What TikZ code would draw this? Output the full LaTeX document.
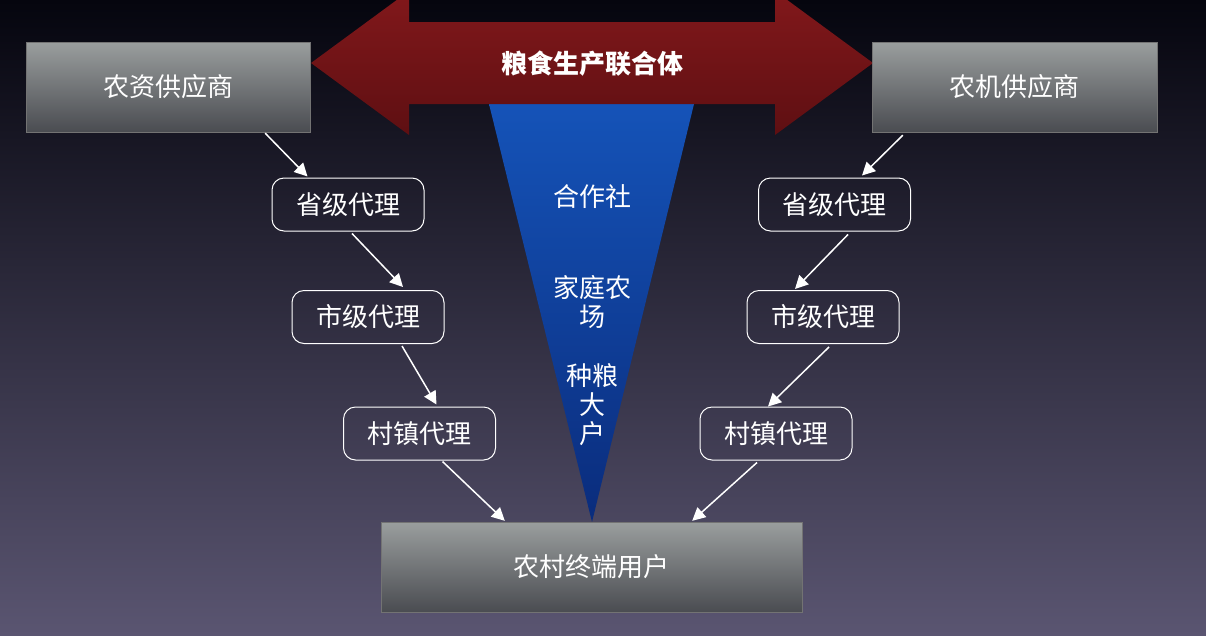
\documentclass[tikz,border=0pt]{standalone}
\usepackage{fontspec}
\newfontfamily\cjk{Noto Sans CJK SC}
\usepackage{xcolor}
\usepackage{tikz}
\usetikzlibrary{arrows.meta,positioning,calc}
\definecolor{fundoTopo}{HTML}{05050E}
\definecolor{fundoBase}{HTML}{5A5571}
\definecolor{caixaTopo}{HTML}{9A9E9E}
\definecolor{caixaBase}{HTML}{4A4C51}
\definecolor{vermelhoTopo}{HTML}{82181B}
\definecolor{vermelhoBase}{HTML}{5E0F12}
\definecolor{azulTopo}{HTML}{1553B8}
\definecolor{azulBase}{HTML}{0A2C7C}
\tikzset{
    texto/.style={
        font=\cjk\fontsize{26}{29}\selectfont,
        text=white,
        align=center
    },
    fornecedor/.style={
        texto,
        rectangle,
        draw=black!55,
        top color=caixaTopo,
        bottom color=caixaBase,
        minimum height=90pt,
        inner sep=0pt
    },
    agente/.style={
        texto,
        rectangle,
        draw=white,
        line width=1pt,
        rounded corners=12pt,
        minimum width=152pt,
        minimum height=53pt,
        inner sep=0pt
    },
    seta/.style={-{Triangle[length=13pt,width=13pt]}, draw=white, line width=1.5pt}
}

\begin{document}
\begin{tikzpicture}[x=1pt, y=-1pt]
        \useasboundingbox (0,0) rectangle (1206,635);
        \clip (0,0) rectangle (1206,635);
        \shade[top color=fundoTopo, bottom color=fundoBase] (0,0) rectangle (1206,635);

        % triangulo central
        \shade[top color=azulTopo, bottom color=azulBase]
            (489,104) -- (694,104) -- (592,522) -- cycle;
        % seta dupla
        \shade[top color=vermelhoTopo, bottom color=vermelhoBase]
            (311,63) -- (409,-9) -- (409,22) -- (775,22) -- (775,-9) -- (873,63)
            -- (775,135) -- (775,104) -- (409,104) -- (409,135) -- cycle;

        \node[texto, font=\cjk\bfseries\fontsize{26}{29}\selectfont] (lianhe) at (592,64) {粮食生产联合体};
        \node[texto] (coop) at (592,197) {合作社};
        \node[texto] (familia) at (592,302) {家庭农\\场};
        \node[texto] (graos) at (592,405) {种粮\\大\\户};

        \node[fornecedor, minimum width=284pt] (insumos) at (168,87) {农资供应商};
        \node[fornecedor, minimum width=285pt] (maquinas) at (1014.5,87) {农机供应商};
        \node[fornecedor, minimum width=421pt] (usuario) at (591.5,567) {农村终端用户};

        \node[agente] (prov1) at (348,204.5) {省级代理};
        \node[agente] (mun1) at (368,317) {市级代理};
        \node[agente] (vila1) at (419.5,433.5) {村镇代理};
        \node[agente] (prov2) at (834.5,204.5) {省级代理};
        \node[agente] (mun2) at (823,317) {市级代理};
        \node[agente] (vila2) at (776,433.5) {村镇代理};

        \draw[seta] ($(insumos.south east)+(-45,1)$) -- ($(prov1.north west)+(36,-1)$);
        \draw[seta] ($(prov1.south)+(4,2)$) -- ($(mun1.north)+(35,-3)$);
        \draw[seta] ($(mun1.south)+(34,2)$) -- ($(vila1.north)+(17,-2)$);
        \draw[seta] ($(vila1.south)+(23,1)$) -- ($(usuario.north west)+(124,-1)$);
        \draw[seta] ($(maquinas.south west)+(31,3)$) -- ($(prov2.north east)+(-49,-2)$);
        \draw[seta] ($(prov2.south)+(13.5,3)$) -- ($(mun2.north)+(-28,-1)$);
        \draw[seta] ($(mun2.south)+(6,3)$) -- ($(vila2.north)+(-8,0)$);
        \draw[seta] ($(vila2.south)+(-19,2)$) -- ($(usuario.north east)+(-110,-1)$);
    \end{tikzpicture}
\end{document}
